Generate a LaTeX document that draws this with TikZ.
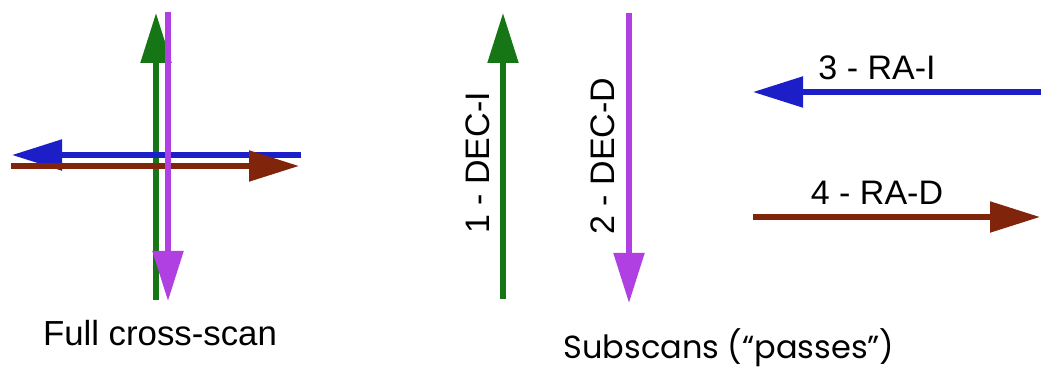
\documentclass[tikz,border=0pt]{standalone}
\usepackage{fontspec}
\setmainfont{Liberation Sans}
\newfontfamily\roundfont{Poppins}
\usetikzlibrary{arrows.meta}

\definecolor{decigreen}{RGB}{22,118,22}
\definecolor{decdviolet}{RGB}{176,64,226}
\definecolor{raiblue}{RGB}{28,30,200}
\definecolor{radbrown}{RGB}{128,36,12}

\begin{document}
\begin{tikzpicture}[
    x=0.5pt, y=-0.5pt,
    scan/.style={
        line width=2.6pt,
        -{Triangle[length=25pt,width=15pt]}
    },
    passlabel/.style={
        font=\fontsize{17}{20}\selectfont,
        inner sep=0pt
    },
    caption/.style={
        font=\fontsize{17.4}{21}\selectfont,
        inner sep=0pt
    }
]
\useasboundingbox (0,0) rectangle (1041,369);

%% Full cross-scan
\coordinate (cx_g_s) at (156,300);
\coordinate (cx_g_e) at (156,13);
\coordinate (cx_v_s) at (168,12);
\coordinate (cx_v_e) at (168,301);
\coordinate (cx_b_s) at (301,155);
\coordinate (cx_b_e) at (12,155);
\coordinate (cx_r_s) at (11,166);
\coordinate (cx_r_e) at (299,166);

\draw[scan, color=decigreen] (cx_g_s) -- (cx_g_e);
\draw[scan, color=raiblue] (cx_b_s) -- (cx_b_e);
\draw[scan, color=radbrown] (cx_r_s) -- (cx_r_e);
\draw[scan, color=decdviolet] (cx_v_s) -- (cx_v_e);

\node[caption] (full_cap) at (160,333) {Full cross-scan};

%% Subscans
\coordinate (dec_i_s) at (503,299);
\coordinate (dec_i_e) at (503,13);
\coordinate (dec_d_s) at (629,13);
\coordinate (dec_d_e) at (629,303);
\coordinate (ra_i_s) at (1041,92);
\coordinate (ra_i_e) at (753,92);
\coordinate (ra_d_s) at (753,217);
\coordinate (ra_d_e) at (1040,217);

\draw[scan, color=decigreen] (dec_i_s) -- (dec_i_e);
\draw[scan, color=decdviolet] (dec_d_s) -- (dec_d_e);
\draw[scan, color=raiblue] (ra_i_s) -- (ra_i_e);
\draw[scan, color=radbrown] (ra_d_s) -- (ra_d_e);

\node[passlabel, rotate=90] (dec_i_lab) at (478,163) {1 - DEC-I};
\node[passlabel, rotate=90] (dec_d_lab) at (603,156) {2 - DEC-D};
\node[passlabel] (ra_i_lab) at (877,68) {3 - RA-I};
\node[passlabel] (ra_d_lab) at (877,193) {4 - RA-D};

\node[caption, font=\roundfont\fontsize{16}{20}\selectfont] (sub_cap) at (729,348) {Subscans (“passes”)};

\end{tikzpicture}
\end{document}
